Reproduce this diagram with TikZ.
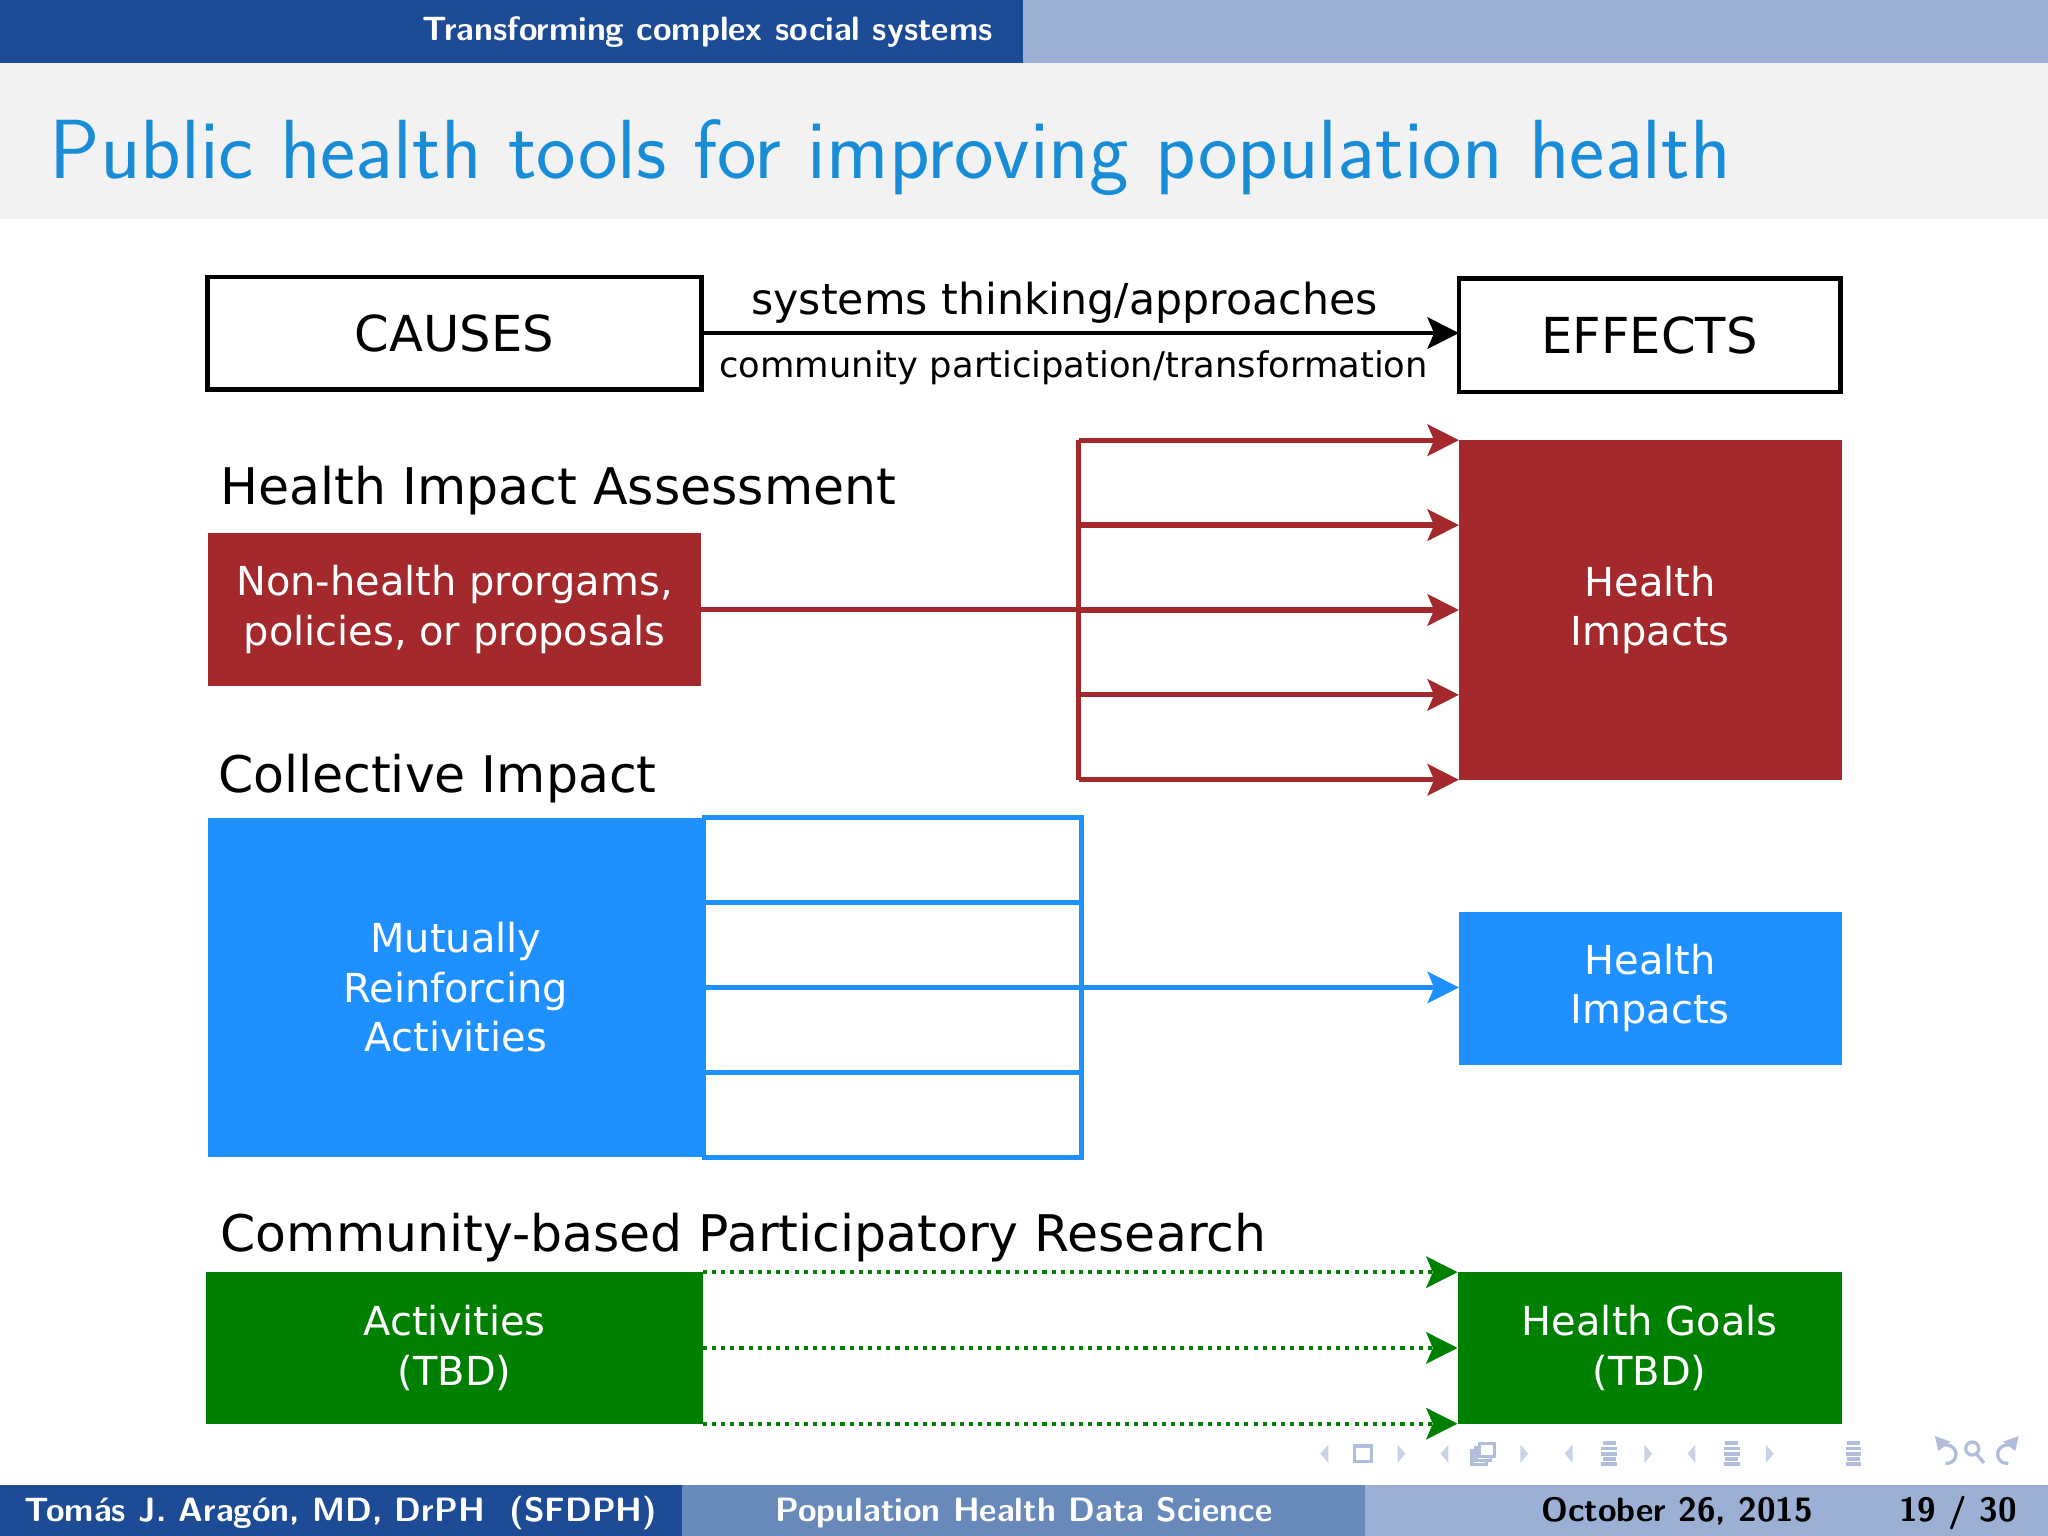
\documentclass[tikz,border=0pt]{standalone}
\usepackage{fontspec}
\newfontfamily\dejavu{DejaVu Sans}
\usetikzlibrary{arrows.meta,calc}
\definecolor{headdark}{RGB}{30,75,150}
\definecolor{headmid}{RGB}{104,138,186}
\definecolor{headlight}{RGB}{155,176,212}
\definecolor{titlegray}{RGB}{242,242,243}
\definecolor{titleblue}{RGB}{25,140,215}
\definecolor{hired}{RGB}{163,41,44}
\definecolor{ciblue}{RGB}{30,144,255}
\definecolor{cbgreen}{RGB}{0,128,0}
\definecolor{navgray}{RGB}{176,190,220}
\tikzset{
  every node/.style={inner sep=0pt, outer sep=0pt},
  tip/.style={-{Stealth[length=2.4mm,width=2.4mm,inset=0.5mm]}},
  plainbox/.style={draw=black, line width=0.35mm, fill=white,
    font=\dejavu\fontsize{10.8}{13}\selectfont},
  fillbox/.style={fill=#1, text=white, align=center,
    font=\dejavu\fontsize{8.7}{10.8}\selectfont},
  heading/.style={anchor=base west, font=\dejavu\fontsize{11}{13}\selectfont},
  barfont/.style={font=\sffamily\bfseries\fontsize{7.35}{9}\selectfont},
  redline/.style={draw=hired, line width=0.4mm},
  blueline/.style={draw=ciblue, line width=0.35mm},
  greenline/.style={draw=cbgreen, line width=0.3mm, dash pattern=on 0.9pt off 1.1pt},
  navline/.style={draw=navgray, line width=0.25mm},
  navtip/.style={{Triangle[length=1mm,width=1.2mm]}-}
}
\begin{document}
\begin{tikzpicture}[x=0.1mm,y=-0.1mm]
  \useasboundingbox (0,0) rectangle (1568,1176);
  % bands
  \fill[headdark] (0,0) rectangle (783,48);
  \fill[headlight] (783,0) rectangle (1568,48);
  \fill[titlegray] (0,48) rectangle (1568,168);
  \fill[headdark] (0,1137) rectangle (522,1176);
  \fill[headmid] (522,1137) rectangle (1045,1176);
  \fill[headlight] (1045,1137) rectangle (1568,1176);
  \node[barfont, anchor=base east, text=white] (section) at (760,31) {Transforming complex social systems};
  \node[anchor=base west, text=titleblue, font=\sffamily\fontsize{18.3}{21}\selectfont] (title) at (38,137)
    {Public health tools for improving population health};
  \node[barfont, anchor=base, text=white] (author) at (261,1165) {Tomás J. Aragón, MD, DrPH\ \ (SFDPH)};
  \node[barfont, anchor=base, text=white] (talk) at (784,1165) {Population Health Data Science};
  \node[barfont, anchor=base] (date) at (1284,1165) {October 26, 2015};
  \node[barfont, anchor=base] (page) at (1499,1165) {19 / 30};

  % causes and effects
  \node[plainbox, minimum width=37.8mm, minimum height=8.6mm] (causes) at (348,255) {CAUSES};
  \node[plainbox, minimum width=29.2mm, minimum height=8.7mm] (effects) at (1263,256.5) {EFFECTS};
  \draw[tip, line width=0.35mm] (causes.east) -- (causes.east -| effects.west);
  \node[anchor=base, font=\dejavu\fontsize{9.3}{11}\selectfont] (approach) at (815,241) {systems thinking/approaches};
  \node[anchor=base, font=\dejavu\fontsize{7.7}{9}\selectfont] (partic) at (822,289) {community participation/transformation};

  % health impact assessment
  \node[heading] (hia) at (169,386) {Health Impact Assessment};
  \node[fillbox=hired, minimum width=37.8mm, minimum height=11.7mm] (hiasrc) at (348,466.5)
    {Non-health prorgams,\\policies, or proposals};
  \node[fillbox=hired, minimum width=29.3mm, minimum height=26mm] (hiimp) at (1263.5,467) {Health\\Impacts};
  \coordinate (fork) at (826,466.5);
  \draw[redline] (hiasrc.east) -- (fork);
  \draw[redline] (fork |- hiimp.north) -- (fork |- hiimp.south);
  \foreach \k in {0,...,4} {
    \coordinate (hit\k) at ($(hiimp.north west)!\k/4!(hiimp.south west)$);
    \draw[redline, tip] (hit\k -| fork) -- (hit\k);
  }

  % collective impact
  \node[heading] (ci) at (167,607) {Collective Impact};
  \node[fillbox=ciblue, minimum width=38mm, minimum height=26mm] (cisrc) at (349,756)
    {Mutually\\Reinforcing\\Activities};
  \foreach \k/\y in {1/658.5,2/723.5,3/788.5,4/853.5}
    \node[blueline, minimum width=28.9mm, minimum height=6.5mm] (cib\k) at (683.5,\y) {};
  \node[fillbox=ciblue, minimum width=29.3mm, minimum height=11.7mm] (ciimp) at (1263.5,756.5) {Health\\Impacts};
  \draw[blueline, tip] (cib2.south east) -- (cib2.south east -| ciimp.west);

  % community-based participatory research
  \node[heading] (cbpr) at (169,958) {Community-based Participatory Research};
  \node[fillbox=cbgreen, minimum width=38mm, minimum height=11.6mm] (cbsrc) at (348,1032) {Activities\\(TBD)};
  \node[fillbox=cbgreen, minimum width=29.4mm, minimum height=11.6mm] (cbgoal) at (1263,1032) {Health Goals\\(TBD)};
  \draw[greenline, tip] (cbsrc.north east) -- (cbgoal.north west);
  \draw[greenline, tip] (cbsrc.east) -- (cbgoal.west);
  \draw[greenline, tip] (cbsrc.south east) -- (cbgoal.south west);

  % navigation symbols
  \foreach \x in {1014,1106,1201,1295}
    \fill[navgray!70] (\x+3,1106) -- (\x-3,1113) -- (\x+3,1120) -- cycle;
  \foreach \x in {1073,1167,1262,1355}
    \fill[navgray!70] (\x-3,1106) -- (\x+3,1113) -- (\x-3,1120) -- cycle;
  \draw[navline] (1037,1107) rectangle (1050,1119);
  \draw[navline, fill=white] (1127,1111) rectangle (1138,1121);
  \draw[navline, fill=white] (1130,1108) rectangle (1141,1118);
  \draw[navline, fill=white] (1133,1105) rectangle (1144,1115);
  \foreach \x in {1232,1326,1419}
    \foreach \y/\w in {1105/5,1109/6,1113/6,1117/5,1121/6}
      \draw[navgray, line width=0.3mm] (\x-\w,\y) -- (\x+\w,\y);
  \draw[navline, navtip] (1484,1111) arc[start angle=-160, end angle=100, radius=7];
  \draw[navline] (1510,1109) circle[radius=5];
  \draw[navline] (1513,1113) -- (1519,1120);
  \draw[navline, navtip] (1543,1111) arc[start angle=-20, end angle=-280, radius=7];
\end{tikzpicture}
\end{document}
